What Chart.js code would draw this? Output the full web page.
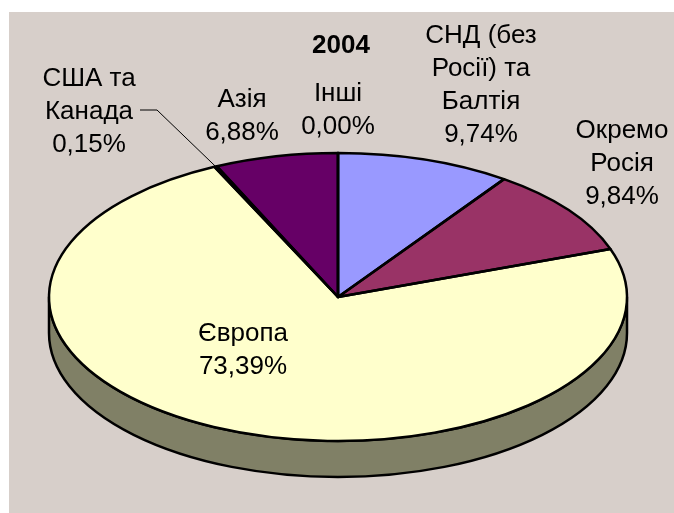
<!DOCTYPE html>
<html>
<head>
<meta charset="utf-8">
<script src="https://cdn.jsdelivr.net/npm/chart.js@4"></script>
<style>
html,body{margin:0;padding:0;background:#fff;width:674px;height:513px;overflow:hidden}
#panel{position:absolute;left:9px;top:12px;right:0;bottom:0;background:#D7CFCA}
canvas{position:absolute;left:0;top:0;display:block}
</style>
</head>
<body>
<div id="panel"></div>
<canvas id="c" width="674" height="513"></canvas>
<script>
const chartTitle = '2004';
const categories = ['СНД (без Росії) та Балтія', 'Окремо Росія', 'Європа', 'США та Канада', 'Азія', 'Інші'];
const values = [9.74, 9.84, 73.39, 0.15, 6.88, 0.00];
const sliceColors = ['#9999FF', '#993366', '#FFFFCC', '#CCFFFF', '#660066', '#FF8080'];
const sideColor = '#808066';
const labelLines = [['СНД (без', 'Росії) та', 'Балтія'], ['Окремо', 'Росія'], ['Європа'], ['США та', 'Канада'], ['Азія'], ['Інші']];
const labelCenterX = [481, 622, 243, 89, 242, 338];
const labelFirstBaseline = [43, 138, 341, 86, 107, 101];
const lineStep = 33;
const xStretch = 289 / 144;
const depth = 36;
const outlineWidth = 2.5;

const pie3d = {
  id: 'pie3d',
  afterLayout(chart) {
    chart.titleBlock.left += 3;
    chart.titleBlock.right += 3;
  },
  beforeDatasetsDraw(chart) {
    const ctx = chart.ctx;
    const a = chart.getDatasetMeta(0).data[0];
    const cx = a.x, cy = a.y, ry = a.outerRadius, rx = ry * xStretch;
    ctx.save();
    ctx.beginPath();
    ctx.ellipse(cx, cy, rx, ry, 0, 0, Math.PI);
    ctx.lineTo(cx - rx, cy + depth);
    ctx.ellipse(cx, cy + depth, rx, ry, 0, Math.PI, 0, true);
    ctx.closePath();
    ctx.fillStyle = sideColor;
    ctx.fill();
    ctx.lineWidth = outlineWidth;
    ctx.lineJoin = 'round';
    ctx.strokeStyle = '#000';
    ctx.stroke();
    ctx.restore();
    ctx.save();
    ctx.translate(cx, cy);
    ctx.scale(xStretch, 1);
    ctx.translate(-cx, -cy);
  },
  afterDatasetsDraw(chart) {
    const ctx = chart.ctx;
    ctx.restore();
    const arcs = chart.getDatasetMeta(0).data;
    ctx.save();
    ctx.lineWidth = outlineWidth;
    ctx.lineJoin = 'round';
    ctx.strokeStyle = '#000';
    arcs.forEach(a => {
      const ry = a.outerRadius, rx = ry * xStretch;
      ctx.beginPath();
      ctx.moveTo(a.x, a.y);
      ctx.ellipse(a.x, a.y, rx, ry, 0, a.startAngle, a.endAngle);
      ctx.closePath();
      ctx.stroke();
    });
    ctx.restore();

    // leader line of the США та Канада label
    const us = arcs[3];
    const mid = (us.startAngle + us.endAngle) / 2;
    ctx.save();
    ctx.strokeStyle = '#000';
    ctx.lineWidth = 1;
    ctx.beginPath();
    ctx.moveTo(140, 110);
    ctx.lineTo(157, 110);
    ctx.lineTo(us.x + Math.cos(mid) * us.outerRadius * xStretch, us.y + Math.sin(mid) * us.outerRadius);
    ctx.stroke();
    ctx.restore();

    ctx.save();
    ctx.fillStyle = '#000';
    ctx.font = '26px "Liberation Sans", Arial, sans-serif';
    ctx.textAlign = 'center';
    ctx.textBaseline = 'alphabetic';
    categories.forEach((_, i) => {
      const lines = labelLines[i].concat(values[i].toFixed(2).replace('.', ',') + '%');
      lines.forEach((t, j) => ctx.fillText(t, labelCenterX[i], labelFirstBaseline[i] + j * lineStep));
    });
    ctx.restore();
  }
};

new Chart(document.getElementById('c'), {
  type: 'pie',
  data: {
    labels: categories,
    datasets: [{
      data: values,
      backgroundColor: sliceColors,
      borderWidth: 0
    }]
  },
  options: {
    responsive: false,
    animation: false,
    events: [],
    radius: 144,
    layout: { padding: { left: 2, right: 0, top: 0, bottom: 0 } },
    plugins: {
      legend: { display: false },
      tooltip: { enabled: false },
      title: {
        display: true,
        text: chartTitle,
        color: '#000',
        font: { family: '"Liberation Sans", Arial, sans-serif', size: 26, weight: 'bold', lineHeight: 1.2 },
        padding: { top: 30, bottom: 19.8 }
      }
    }
  },
  plugins: [pie3d]
});
</script>
</body>
</html>
